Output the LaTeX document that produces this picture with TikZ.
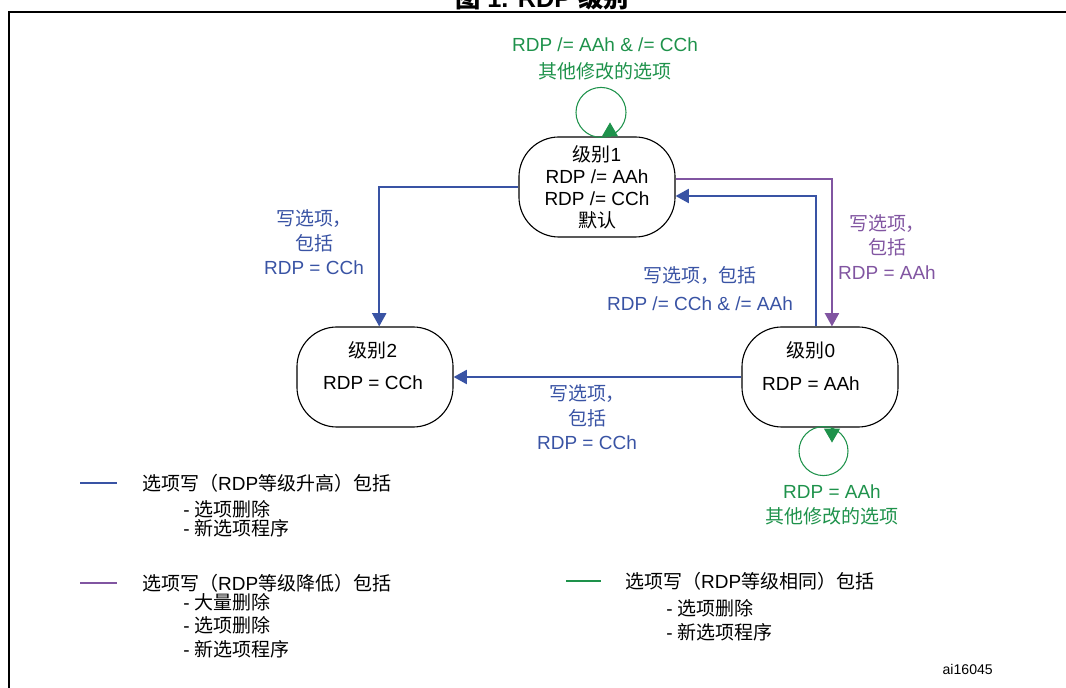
\documentclass[tikz,border=0pt]{standalone}
\usepackage{fontspec}
\setmainfont{Liberation Sans}
\newfontfamily\cjk{Noto Sans CJK SC}
\newcommand{\zh}[1]{{\cjk #1}}
\usetikzlibrary{arrows.meta}
\definecolor{rdpblue}{RGB}{57,83,164}
\definecolor{rdppurple}{RGB}{129,85,161}
\definecolor{rdpgreen}{RGB}{30,146,75}

\begin{document}
\begin{tikzpicture}[x=0.025cm,y=-0.025cm,>={Triangle[length=3.3mm,width=3.5mm]},
  state/.style={draw,line width=0.8pt,rounded corners=1cm,minimum width=3.9cm,minimum height=2.5cm,inner sep=0pt,align=center,font=\fontsize{13.5pt}{15.6pt}\selectfont},
  txt/.style={inner sep=0pt,align=center,font=\fontsize{13.5pt}{17.4pt}\selectfont},
  legtxt/.style={inner sep=0pt,anchor=west,align=left,font=\fontsize{13.5pt}{13.5pt}\selectfont},
  blueline/.style={rdpblue,line width=1.4pt},
  purpleline/.style={rdppurple,line width=1.4pt},
  loopline/.style={rdpgreen,line width=0.75pt},
  looptip/.style={-{Triangle[length=3.5mm,width=4mm]}}]
\useasboundingbox (0,0) rectangle (1066,688);

% frame and title
\draw[line width=1.4pt] (9,700) |- (1080,12);
\node[font=\fontsize{18pt}{20pt}\selectfont\bfseries,anchor=base,inner sep=0pt] (title) at (542,8) {\zh{图} 1. RDP \zh{级别}};

% states
\node[state] (L1) at (597,187) {\zh{级别}1\\RDP /= AAh\\RDP /= CCh\\\zh{默认}};
\node[state] (L2) at (375,377) {};
\node[txt] (L2t) at (373,366) {\zh{级别}2\\[5.4pt]RDP = CCh};
\node[state] (L0) at (820,377) {};
\node[txt] (L0t) at (811,366) {\zh{级别}0\\[5.4pt]RDP = AAh};

% transitions
\draw[blueline,->] (L1.west) -| ([xshift=3pt]L2.north);
\draw[blueline,->] (L0.west) -- (L2.east);
\draw[blueline,->] ([xshift=-3pt]L0.north) |- ([yshift=-6.4pt]L1.east);
\draw[purpleline,->] ([yshift=5.7pt]L1.east) -| ([xshift=8.5pt]L0.north);

\draw[loopline] (L1.north) ++(4,-24) circle[radius=25];
\draw[loopline,looptip] (L1.north) ++(13,0) -- ++(0,-14);
\draw[loopline] (L0.south) ++(3.5,23.5) circle[radius=24.5];
\draw[loopline,looptip] (L0.south) ++(12,0) -- ++(0,15);

% transition labels
\node[txt,rdpgreen] (g1) at (605,58.5) {RDP /= AAh \& /= CCh\\[1.8pt]\zh{其他修改的选项}};
\node[txt,rdpblue] (b1) at (314,242.5) {\zh{写选项，}\\\zh{包括}\\RDP = CCh};
\node[txt,rdpblue] (b2) at (700,289) {\zh{写选项，包括}\\[2.5pt]RDP /= CCh \& /= AAh};
\node[txt,rdppurple] (p1) at (887,247) {\zh{写选项，}\\\zh{包括}\\RDP = AAh};
\node[txt,rdpblue] (b3) at (587,417.5) {\zh{写选项，}\\\zh{包括}\\RDP = CCh};
\node[txt,rdpgreen] (g2) at (832,505) {RDP = AAh\\\zh{其他修改的选项}};

% legend
\draw[blueline] (80,483) -- (117,483);
\node[legtxt] (lb) at (142,483) {\zh{选项写（}RDP\zh{等级升高）包括}};
\node[legtxt] (lbi) at (183,518.5) {- \zh{选项删除}\\- \zh{新选项程序}};
\draw[purpleline] (80,583) -- (117,583);
\node[legtxt] (lp) at (142,583) {\zh{选项写（}RDP\zh{等级降低）包括}};
\node[legtxt] (lpi) at (183,625.5) {- \zh{大量删除}\\[3.2pt]- \zh{选项删除}\\[3.2pt]- \zh{新选项程序}};
\draw[rdpgreen,line width=1.4pt] (566,581) -- (601,581);
\node[legtxt] (lg) at (625,581) {\zh{选项写（}RDP\zh{等级相同）包括}};
\node[legtxt] (lgi) at (666,620) {- \zh{选项删除}\\[3.6pt]- \zh{新选项程序}};

\node[font=\fontsize{10pt}{12pt}\selectfont,anchor=east,inner sep=0pt] (ai) at (993,669) {ai16045};
\end{tikzpicture}
\end{document}
